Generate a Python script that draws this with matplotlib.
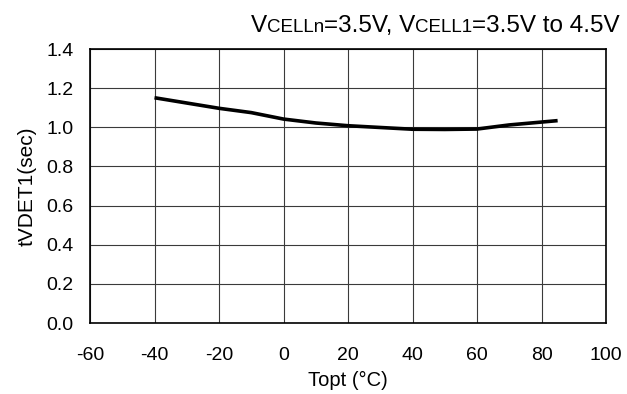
import matplotlib
matplotlib.use("Agg")
import matplotlib.pyplot as plt
from matplotlib.offsetbox import TextArea, HPacker, AnchoredOffsetbox

plt.rcParams['font.family'] = ['Liberation Sans', 'DejaVu Sans']
plt.rcParams['axes.unicode_minus'] = False

# data
temp = [-40, -30, -20, -10, 0, 10, 20, 30, 40, 50, 60, 70, 85]
tvdet1 = [1.151, 1.124, 1.097, 1.075, 1.042, 1.022, 1.008, 0.999, 0.990, 0.989, 0.991, 1.012, 1.034]

xticks = [-60, -40, -20, 0, 20, 40, 60, 80, 100]
yticks = [0.0, 0.2, 0.4, 0.6, 0.8, 1.0, 1.2, 1.4]

fig = plt.figure(figsize=(6.27, 3.94), dpi=100)
ax = fig.add_axes([90 / 627, 1 - 323 / 394, 516 / 627, 274 / 394])

ax.plot(temp, tvdet1, color='black', lw=2.6, solid_capstyle='butt')

ax.set_xlim(-60, 100)
ax.set_ylim(0, 1.4)
ax.set_xticks(xticks)
ax.set_yticks(yticks)
ax.set_yticklabels([f'{v:.1f}' for v in yticks])
ax.grid(True, color='#3a3a3a', lw=0.8)
ax.set_axisbelow(True)
ax.tick_params(length=0, labelsize=14)
ax.tick_params(axis='y', pad=12)
ax.tick_params(axis='x', pad=17)
for s in ax.spines.values():
    s.set_linewidth(1.2)

ax.set_xlabel('Topt (°C)', fontsize=14.5, labelpad=5)
ax.set_ylabel('tVDET1(sec)', fontsize=15, labelpad=7)

# title with small-caps style pieces
big, small = 17.5, 13.5
parts = [('V', big), ('CELLn', small), ('=3.5V, V', big), ('CELL1', small), ('=3.5V to 4.5V', big)]
areas = [TextArea(t, textprops=dict(fontsize=fs, color='black')) for t, fs in parts]
box = HPacker(children=areas, align='baseline', pad=0, sep=0)
anchored = AnchoredOffsetbox(loc='lower right', child=box, frameon=False,
                             bbox_to_anchor=(620 / 627, 1 - 37 / 394),
                             bbox_transform=fig.transFigure, borderpad=0, pad=0)
fig.add_artist(anchored)

fig.savefig('out.png', dpi=100)
